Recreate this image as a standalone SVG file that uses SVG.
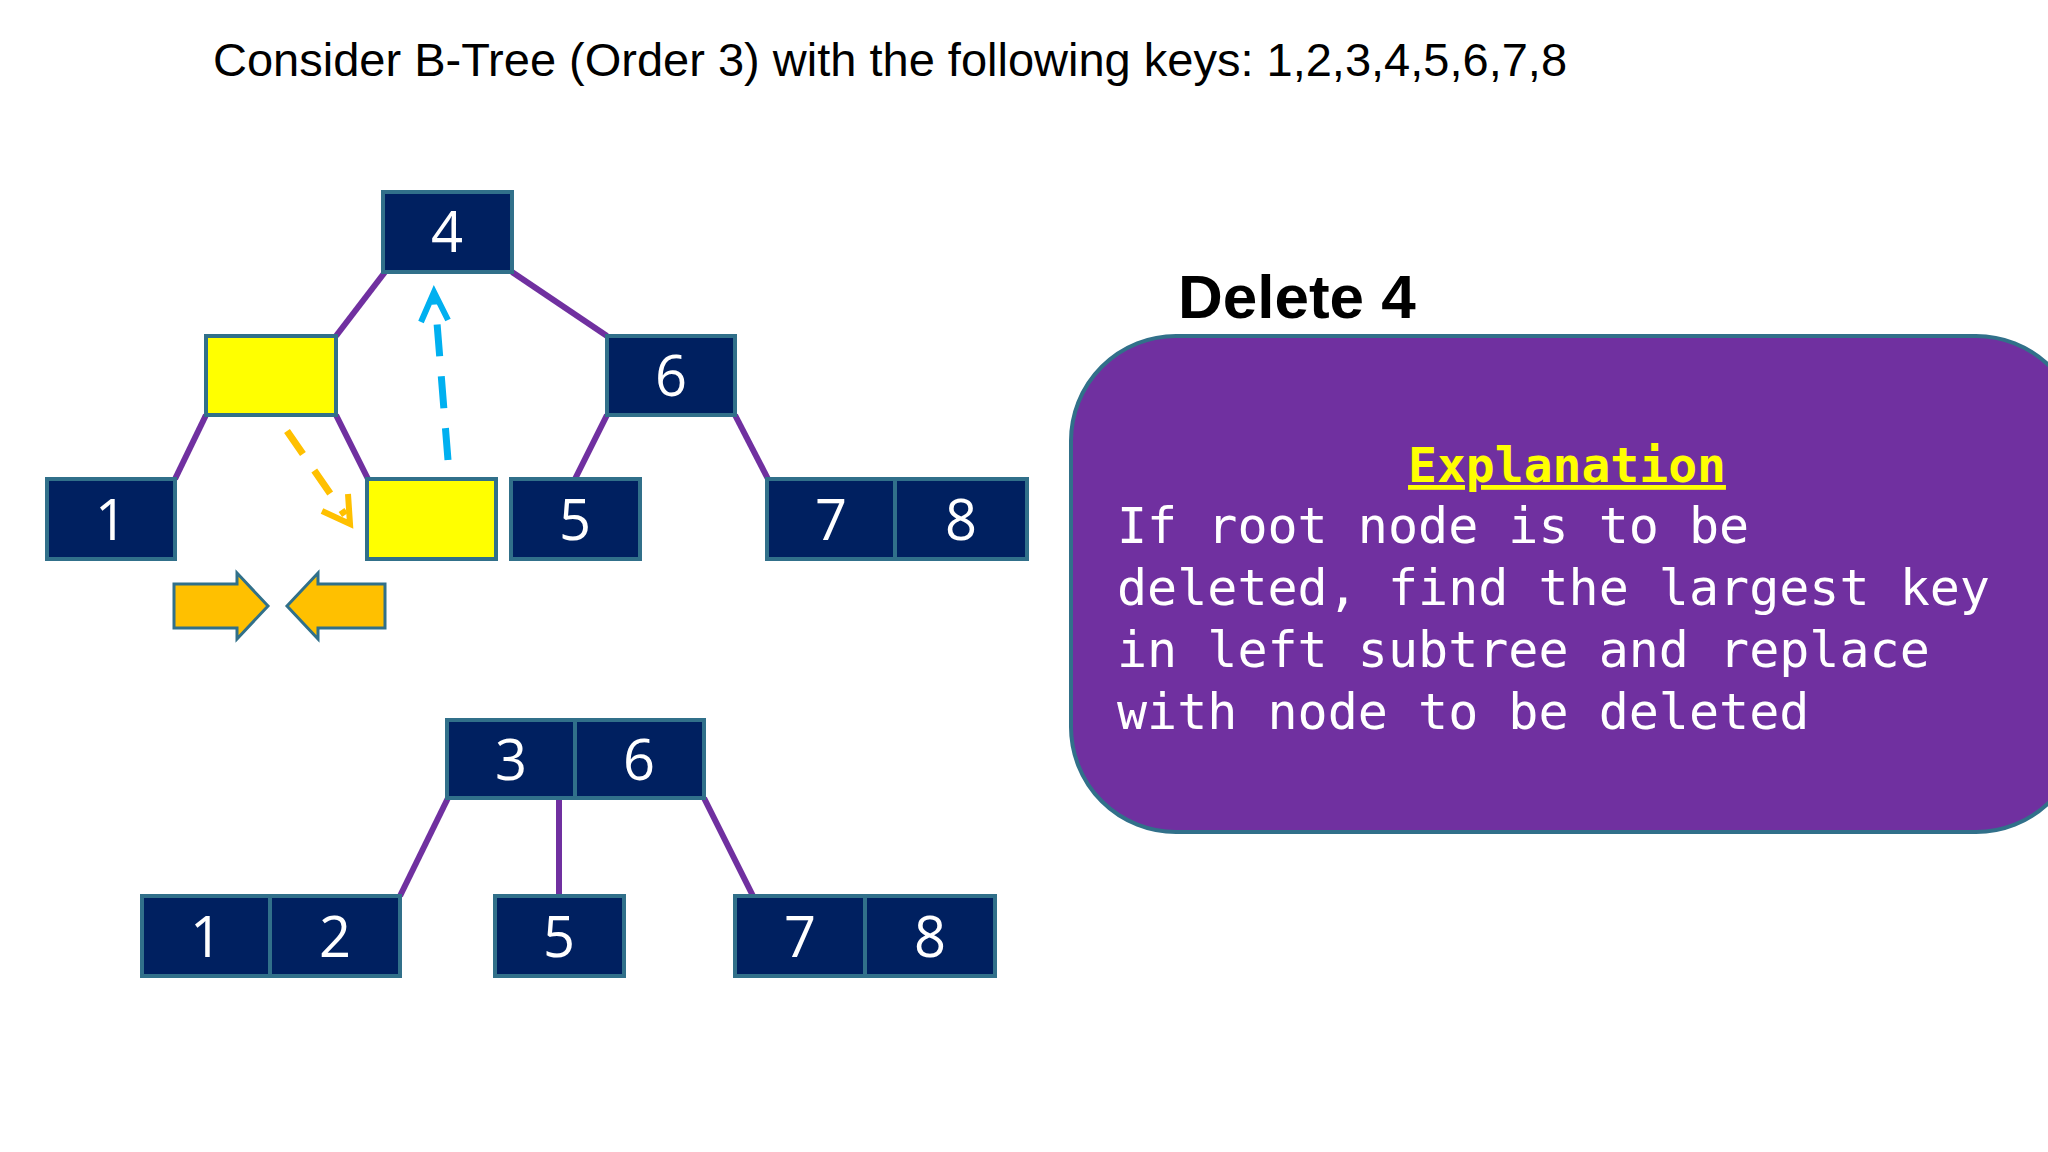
<svg xmlns="http://www.w3.org/2000/svg" width="2048" height="1152" viewBox="0 0 2048 1152">
<style>
.n{fill:#002060;stroke:#31708A;stroke-width:4}
.y{fill:#FFFF00;stroke:#31708A;stroke-width:4}
.t{fill:#fff;font-family:"Open Sans","Noto Sans",sans-serif;font-size:56px;text-anchor:middle}
.e{stroke:#7030A0;stroke-width:6;fill:none}
.m{fill:#fff;font-family:"DejaVu Sans Mono",monospace;font-size:50px}
</style>
<rect width="2048" height="1152" fill="#fff"/>
<text x="213" y="76" font-family="Liberation Sans,Arial,sans-serif" font-size="47">Consider B-Tree (Order 3) with the following keys: 1,2,3,4,5,6,7,8</text>
<g id="connectors">
<line class="e" x1="385" y1="272" x2="336" y2="336"/>
<line class="e" x1="512" y1="272" x2="607" y2="336"/>
<line class="e" x1="206" y1="415" x2="175" y2="479"/>
<line class="e" x1="336" y1="415" x2="368" y2="479"/>
<line class="e" x1="607" y1="415" x2="575" y2="479"/>
<line class="e" x1="735" y1="415" x2="768" y2="479"/>
<line class="e" x1="448" y1="798" x2="400" y2="896"/>
<line class="e" x1="559" y1="798" x2="559" y2="896"/>
<line class="e" x1="704" y1="798" x2="753" y2="896"/>
<path d="M448 460 L435 298" stroke="#00B0F0" stroke-width="7" stroke-dasharray="32,20" fill="none"/>
<path d="M421 322 L434 292 L448 320" stroke="#00B0F0" stroke-width="6" fill="none"/>
<path d="M287 431 L345 515" stroke="#FFC000" stroke-width="7" stroke-dasharray="28,20" fill="none"/>
<path d="M322 511 L350 524 L348 494" stroke="#FFC000" stroke-width="6" fill="none"/>
</g>
<g id="root"><rect class="n" x="383" y="192" width="129" height="80"/><text class="t" x="447" y="252">4</text></g>
<g id="yellowParent"><rect class="y" x="206" y="336" width="130" height="79"/></g>
<g id="n6"><rect class="n" x="607" y="336" width="128" height="79"/><text class="t" x="671" y="396">6</text></g>
<g id="n1"><rect class="n" x="47" y="479" width="128" height="80"/><text class="t" x="111" y="540">1</text></g>
<g id="yellowLeaf"><rect class="y" x="367" y="479" width="129" height="80"/></g>
<g id="n5"><rect class="n" x="511" y="479" width="129" height="80"/><text class="t" x="575" y="540">5</text></g>
<g id="n78"><rect class="n" x="767" y="479" width="128" height="80"/><rect class="n" x="895" y="479" width="132" height="80"/><text class="t" x="831" y="540">7</text><text class="t" x="961" y="540">8</text></g>
<g id="mergeArrows">
<path d="M174 584 H237 V573 L268 606 L237 639 V628 H174 Z" fill="#FFC000" stroke="#31708A" stroke-width="3"/>
<path d="M385 584 H318 V573 L287 606 L318 639 V628 H385 Z" fill="#FFC000" stroke="#31708A" stroke-width="3"/>
</g>
<g id="b36"><rect class="n" x="447" y="720" width="128" height="78"/><rect class="n" x="575" y="720" width="129" height="78"/><text class="t" x="511" y="780">3</text><text class="t" x="639" y="780">6</text></g>
<g id="b12"><rect class="n" x="142" y="896" width="128" height="80"/><rect class="n" x="270" y="896" width="130" height="80"/><text class="t" x="206" y="957">1</text><text class="t" x="335" y="957">2</text></g>
<g id="b5"><rect class="n" x="495" y="896" width="129" height="80"/><text class="t" x="559" y="957">5</text></g>
<g id="b78"><rect class="n" x="735" y="896" width="130" height="80"/><rect class="n" x="865" y="896" width="130" height="80"/><text class="t" x="800" y="957">7</text><text class="t" x="930" y="957">8</text></g>
<text x="1178" y="318" font-family="Liberation Sans,Arial,sans-serif" font-weight="bold" font-size="62">Delete 4</text>
<g id="explanation">
<rect x="1071" y="336" width="1010" height="496" rx="105" fill="#7030A0" stroke="#31708A" stroke-width="4"/>
<text x="1567" y="482" text-anchor="middle" font-family="DejaVu Sans Mono,monospace" font-weight="bold" font-size="48" fill="#FFFF00" text-decoration="underline">Explanation</text>
<text class="m" x="1117" y="543">If root node is to be</text>
<text class="m" x="1117" y="605">deleted, find the largest key</text>
<text class="m" x="1117" y="667">in left subtree and replace</text>
<text class="m" x="1117" y="729">with node to be deleted</text>
</g>
</svg>
